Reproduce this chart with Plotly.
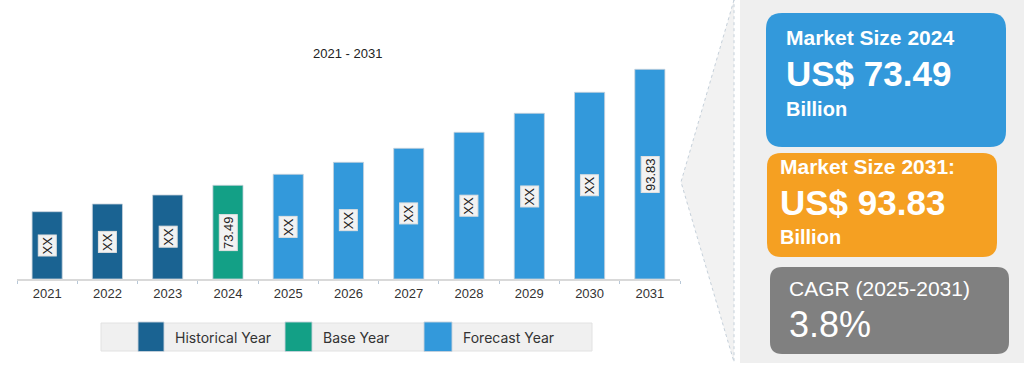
import plotly.graph_objects as go

W, H = 1024, 367

# ---- data ----
years = ["2021", "2022", "2023", "2024", "2025", "2026", "2027", "2028", "2029", "2030", "2031"]
bar_heights = [67.3, 75.0, 84.0, 93.7, 104.7, 116.7, 130.7, 146.7, 165.7, 186.7, 209.7]
bar_labels = ["XX", "XX", "XX", "73.49", "XX", "XX", "XX", "XX", "XX", "XX", "93.83"]
bar_kinds = ["Historical Year"] * 3 + ["Base Year"] + ["Forecast Year"] * 7
legend_names = ["Historical Year", "Base Year", "Forecast Year"]
kind_colors = {"Historical Year": "#1a6392", "Base Year": "#13a086", "Forecast Year": "#3399db"}
title_text = "2021 - 2031"
market_2024 = "73.49"
market_2031 = "93.83"
cagr = "3.8%"


def px(x):
    return x / W


def py(y):
    return 1 - y / H


def rrect_path(x0, y0, x1, y1, r):
    def P(x, y):
        return f"{px(x):.5f},{py(y):.5f}"
    return (f"M {P(x0 + r, y0)} L {P(x1 - r, y0)} Q {P(x1, y0)} {P(x1, y0 + r)} "
            f"L {P(x1, y1 - r)} Q {P(x1, y1)} {P(x1 - r, y1)} "
            f"L {P(x0 + r, y1)} Q {P(x0, y1)} {P(x0, y1 - r)} "
            f"L {P(x0, y0 + r)} Q {P(x0, y0)} {P(x0 + r, y0)} Z")


fig = go.Figure()
fig.add_trace(go.Bar(
    x=years, y=bar_heights,
    marker=dict(color=[kind_colors[k] for k in bar_kinds],
                line=dict(color="rgba(200,210,220,0.8)", width=1)),
    width=0.5, showlegend=False, hoverinfo="skip",
))

annotations = []
for i, (h, lab) in enumerate(zip(bar_heights, bar_labels)):
    annotations.append(dict(
        x=i, y=h / 2, xref="x", yref="y", text=lab, showarrow=False,
        textangle=-90, font=dict(family="Liberation Sans", size=13, color="#222"),
        bgcolor="#f2f2f2", bordercolor="#e0e0e0", borderwidth=1, borderpad=1,
    ))

annotations.append(dict(x=px(347), y=py(44), xref="paper", yref="paper", text=title_text,
                        showarrow=False, font=dict(family="Liberation Sans", size=13, color="#222")))

shapes = []
# legend band
shapes.append(dict(type="rect", xref="paper", yref="paper", x0=px(101), x1=px(592), y0=py(351), y1=py(323),
                   fillcolor="#f0f0f0", line=dict(color="#e2e2e2", width=1), layer="below"))
leg_pos = [(138, 164, 173), (285, 312, 321), (424, 452, 461)]
for name, (sx0, sx1, tx) in zip(legend_names, leg_pos):
    shapes.append(dict(type="rect", xref="paper", yref="paper", x0=px(sx0), x1=px(sx1), y0=py(351.5), y1=py(322),
                       fillcolor=kind_colors[name], line=dict(color="rgba(200,210,220,0.9)", width=1)))
    annotations.append(dict(x=px(tx), y=py(337), xref="paper", yref="paper", text=name, showarrow=False,
                            xanchor="left", yanchor="middle",
                            font=dict(family="Inter", size=14, color="#333")))

# chevron and right panel
shapes.append(dict(type="path", xref="paper", yref="paper",
                   path=f"M {px(734)},{py(0)} L {px(681)},{py(182)} L {px(734)},{py(362)} Z",
                   fillcolor="#f2f2f2", line=dict(color="#c5d0da", width=1, dash="dot"), layer="below"))
shapes.append(dict(type="rect", xref="paper", yref="paper", x0=px(740), x1=px(1024), y0=py(363), y1=py(0),
                   fillcolor="#efefef", line=dict(width=0), layer="below"))

# boxes
shapes.append(dict(type="path", xref="paper", yref="paper", path=rrect_path(766, 13, 1006, 147, 16),
                   fillcolor="#3399db", line=dict(width=0)))
shapes.append(dict(type="path", xref="paper", yref="paper", path=rrect_path(767, 153, 997, 257, 14),
                   fillcolor="#f5a022", line=dict(width=0)))
shapes.append(dict(type="path", xref="paper", yref="paper", path=rrect_path(770, 267, 1009, 354, 12),
                   fillcolor="#808080", line=dict(width=0)))


def txt(x, y, s, size, bold=False):
    annotations.append(dict(x=px(x), y=py(y), xref="paper", yref="paper",
                            text=f"<b>{s}</b>" if bold else s, showarrow=False,
                            xanchor="left", yanchor="middle",
                            font=dict(family="Liberation Sans", size=size, color="white")))


txt(784, 38, "Market Size 2024", 21, True)
txt(784, 74, f"US$ {market_2024}", 35, True)
txt(784, 109, "Billion", 20, True)
txt(778, 166, "Market Size 2031:", 21, True)
txt(778, 202, f"US$ {market_2031}", 35, True)
txt(778, 237, "Billion", 20, True)
txt(787, 288, "CAGR (2025-2031)", 21, False)
txt(787, 324, cagr, 36, False)

fig.update_layout(
    width=W, height=H,
    margin=dict(l=0, r=0, t=0, b=0),
    paper_bgcolor="white", plot_bgcolor="white",
    bargap=0.5,
    xaxis=dict(domain=[px(17), px(680)], type="category", range=[-0.5, 10.5],
               showline=True, linecolor="#d9d9d9", linewidth=1.5,
               ticks="outside", tickson="boundaries", ticklen=3, tickcolor="#b8c8d8",
               ticklabelstandoff=2,
               tickfont=dict(family="Liberation Sans", size=13, color="#333"),
               showgrid=False, zeroline=False, fixedrange=True),
    yaxis=dict(domain=[py(279), py(50)], range=[0, 229], visible=False, showgrid=False,
               zeroline=False, fixedrange=True),
    shapes=shapes, annotations=annotations,
)

fig.write_html("out.html", config={"displayModeBar": False},
               post_script="document.body.style.margin='0';")
